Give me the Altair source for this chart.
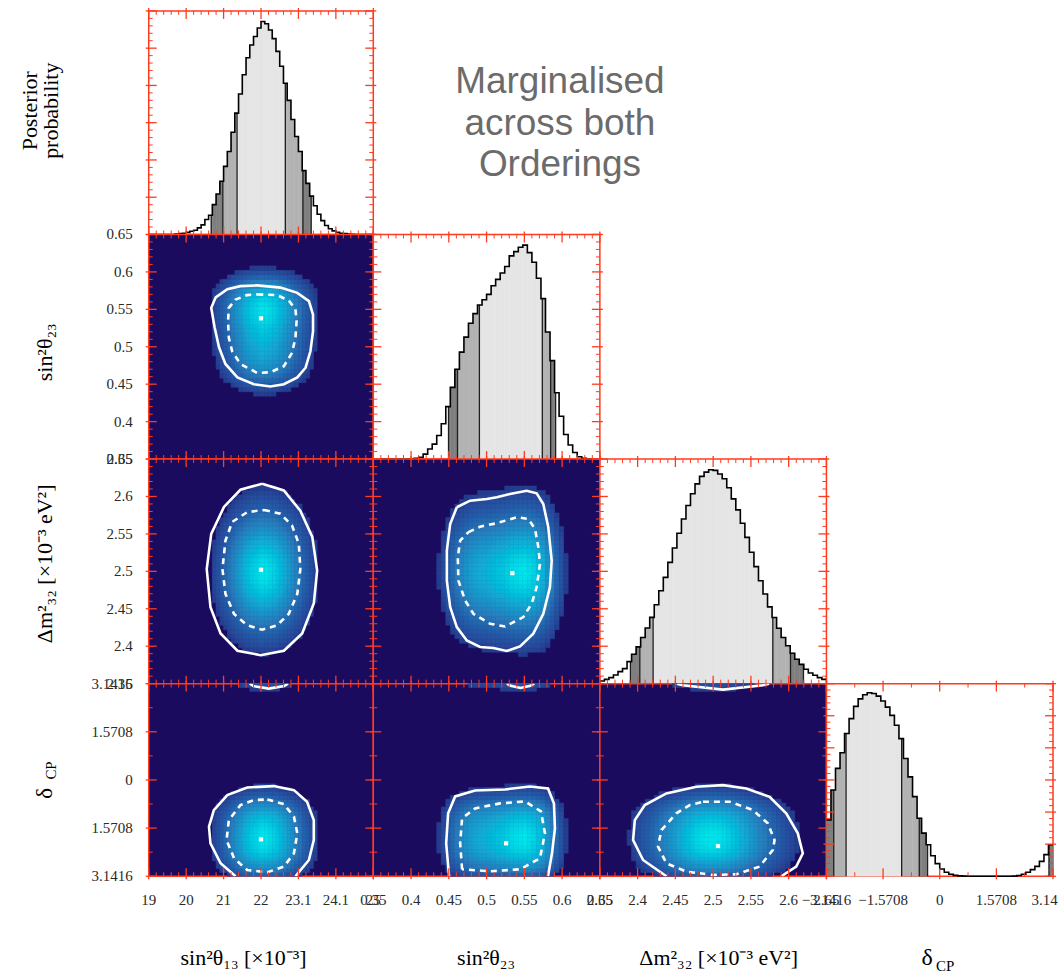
import altair as alt
import numpy as np
import pandas as pd

PI = 3.141592653589793
SERIF = "Liberation Serif"
SANS = "Liberation Sans"
RED = "#ff3b1f"
NAVY = "#1a0b5f"
LABEL = "#2a2a2a"

# ---------------- axis ranges and tick labels ----------------
T13_RANGE = [19.0, 25.0]
T23_RANGE = [0.35, 0.65]
DM_RANGE = [2.35, 2.65]
DCP_RANGE = [-PI, PI]
P_RANGE = [0.0, 1.05]

T13_LABELS = ["19", "20", "21", "22", "23.1", "24.1", "25"]
T23_LABELS = ["0.35", "0.4", "0.45", "0.5", "0.55", "0.6", "0.65"]
DM_LABELS = ["2.35", "2.4", "2.45", "2.5", "2.55", "2.6", "2.65"]
DCP_X_LABELS = ["\u22123.1416", "\u22121.5708", "0", "1.5708", "3.1416"]
DCP_Y_LABELS = ["3.1416", "1.5708", "0", "1.5708", "3.1416"]

# ---------------- 1D marginal posteriors (bin heights, peak = 1) ----------------
T13_HIST = [0, 0, 0, 0, 0, 0, 0, 0.002, 0.004, 0.006,
            0.01, 0.015, 0.02, 0.031, 0.045, 0.07, 0.09, 0.14, 0.19, 0.25,
            0.32, 0.39, 0.48, 0.57, 0.66, 0.75, 0.83, 0.89, 0.93, 0.97,
            1.0, 0.99, 0.96, 0.92, 0.86, 0.79, 0.71, 0.63, 0.54, 0.46,
            0.39, 0.30, 0.24, 0.18, 0.135, 0.095, 0.065, 0.042, 0.027, 0.017,
            0.01, 0.006, 0.004, 0.002, 0.001, 0, 0, 0, 0, 0]
T23_HIST = [0, 0, 0, 0, 0, 0, 0, 0, 0, 0.003,
            0.008, 0.023, 0.047, 0.07, 0.11, 0.165, 0.245, 0.335, 0.42, 0.5,
            0.57, 0.635, 0.68, 0.72, 0.745, 0.77, 0.81, 0.84, 0.87, 0.9,
            0.95, 0.97, 0.99, 1.0, 0.965, 0.92, 0.845, 0.75, 0.594, 0.46,
            0.31, 0.2, 0.115, 0.066, 0.031, 0.011, 0.003, 0, 0, 0]
DM_HIST = [0.0125, 0.02, 0.028, 0.04, 0.056, 0.07, 0.103, 0.1375, 0.172, 0.216,
           0.26, 0.31, 0.369, 0.434, 0.497, 0.567, 0.634, 0.703, 0.77, 0.833,
           0.8875, 0.934, 0.969, 0.989, 1.0, 0.997, 0.98, 0.958, 0.916, 0.864,
           0.8125, 0.75, 0.684, 0.614, 0.547, 0.481, 0.419, 0.359, 0.309, 0.259,
           0.216, 0.177, 0.142, 0.114, 0.09, 0.067, 0.05, 0.039, 0.028, 0.02]
DCP_HIST = [0.307, 0.47, 0.588, 0.673, 0.778, 0.859, 0.926, 0.967, 0.989, 1.0,
            0.996, 0.982, 0.955, 0.922, 0.877, 0.823, 0.75, 0.642, 0.542, 0.434,
            0.316, 0.235, 0.172, 0.112, 0.069, 0.04, 0.022, 0.011, 0.005, 0.002,
            0.001, 0, 0, 0, 0, 0, 0, 0, 0, 0,
            0, 0.001, 0.004, 0.011, 0.022, 0.036, 0.054, 0.081, 0.118, 0.172]

# credible-interval shading: (low, high, level) with 1 = 99 %, 2 = 95 %, 3 = 68 %
T13_BANDS = [(20.67, 23.34, 1), (20.98, 23.12, 2), (21.36, 22.65, 3)]
T23_BANDS = [(0.4496, 0.5914, 1), (0.4615, 0.5848, 2), (0.4905, 0.5738, 3)]
DM_BANDS = [(2.3905, 2.6196, 1), (2.4029, 2.6024, 2), (2.4205, 2.579, 3)]
DCP_BANDS = [(-PI, -0.337, 1), (3.03, PI, 1), (-2.939, -0.567, 2), (-2.597, -1.056, 3)]

# ---------------- 2D credible contours ----------------
C1323_SOLID_X = [21.90, 22.52, 22.97, 23.28, 23.39, 23.39, 23.32, 23.19, 22.97, 22.61,
                 22.25, 21.81, 21.37, 21.05, 20.88, 20.76, 20.67, 20.79, 21.10, 21.45]
C1323_SOLID_Y = [0.582, 0.579, 0.572, 0.561, 0.543, 0.521, 0.494, 0.472, 0.459, 0.450,
                 0.447, 0.450, 0.459, 0.477, 0.499, 0.526, 0.552, 0.566, 0.577, 0.581]
C1323_DASH_X = [21.90, 22.43, 22.74, 22.92, 22.95, 22.92, 22.83, 22.61, 22.25, 21.90,
                21.45, 21.23, 21.14, 21.12, 21.14, 21.32, 21.63]
C1323_DASH_Y = [0.570, 0.569, 0.562, 0.550, 0.534, 0.512, 0.492, 0.474, 0.466, 0.465,
                0.477, 0.494, 0.512, 0.534, 0.552, 0.563, 0.569]
BEST_1323 = (22.0, 0.538)

C13DM_SOLID_X = [22.03, 22.61, 23.05, 23.37, 23.50, 23.41, 23.10, 22.61, 21.99, 21.37,
                 20.92, 20.65, 20.55, 20.67, 21.01, 21.45]
C13DM_SOLID_Y = [2.617, 2.608, 2.581, 2.546, 2.501, 2.457, 2.417, 2.394, 2.388, 2.394,
                 2.417, 2.452, 2.503, 2.550, 2.586, 2.609]
C13DM_DASH_X = [22.08, 22.52, 22.83, 23.01, 23.05, 22.97, 22.74, 22.43, 22.03, 21.63,
                21.28, 21.05, 20.97, 21.05, 21.23, 21.63]
C13DM_DASH_Y = [2.582, 2.577, 2.561, 2.537, 2.503, 2.470, 2.443, 2.428, 2.422, 2.428,
                2.443, 2.470, 2.503, 2.541, 2.566, 2.579]
BEST_13DM = (22.0, 2.502)

C23DM_SOLID_X = [0.4606, 0.4782, 0.5003, 0.5135, 0.5310, 0.5531, 0.5663, 0.5751, 0.5817,
                 0.5862, 0.5839, 0.5751, 0.5618, 0.5443, 0.5267, 0.5090, 0.4914, 0.4738,
                 0.4606, 0.4518, 0.4474, 0.4474, 0.4518]
C23DM_SOLID_Y = [2.5856, 2.5944, 2.5967, 2.599, 2.6033, 2.6077, 2.6043, 2.59, 2.5589,
                 2.5144, 2.4789, 2.4433, 2.4167, 2.3997, 2.3936, 2.3976, 2.3989, 2.4077,
                 2.4256, 2.4523, 2.4877, 2.5277, 2.5633]
C23DM_DASH_X = [0.476, 0.4914, 0.5135, 0.5399, 0.5552, 0.5641, 0.5685, 0.5707, 0.5663,
                0.5597, 0.5486, 0.5244, 0.5046, 0.4826, 0.4716, 0.4627, 0.4619, 0.465]
C23DM_DASH_Y = [2.5523, 2.5597, 2.5643, 2.5723, 2.57, 2.5567, 2.5323, 2.51, 2.4789,
                2.4567, 2.4389, 2.4264, 2.43, 2.4433, 2.4611, 2.4877, 2.5189, 2.541]
BEST_23DM = (0.5341, 2.4976)

C13CP_SOLID_X = [21.32, 20.92, 20.65, 20.61, 20.74, 21.10, 21.63, 22.34, 22.88, 23.23,
                 23.41, 23.41, 23.28, 22.92]
C13CP_SOLID_Y = [-3.1416, -2.718, -2.067, -1.524, -0.983, -0.495, -0.244, -0.200, -0.332,
                 -0.710, -1.310, -1.960, -2.610, -3.1416]
C13CP_DASH_X = [22.17, 22.61, 22.88, 22.97, 22.88, 22.61, 22.17, 21.63, 21.28, 21.08,
                21.14, 21.45, 21.81]
C13CP_DASH_Y = [-0.635, -0.787, -1.198, -1.741, -2.393, -2.827, -3.011, -2.936, -2.555,
                -1.960, -1.310, -0.820, -0.657]
C13CP_ARC_X = [21.70, 21.80, 22.21, 22.62, 22.72]
C13CP_ARC_Y = [3.1416, 3.06, 2.98, 3.06, 3.1416]
BEST_13CP = (22.0, -1.937)

C23CP_SOLID_X = [0.4504, 0.4465, 0.4491, 0.4584, 0.4848, 0.5244, 0.5575, 0.5813, 0.5892,
                 0.5905, 0.5866, 0.5813]
C23CP_SOLID_Y = [-3.1416, -2.067, -1.090, -0.537, -0.342, -0.309, -0.212, -0.277, -0.765,
                 -1.579, -2.393, -3.1416]
C23CP_DASH_X = [0.4676, 0.465, 0.4676, 0.4848, 0.5178, 0.5509, 0.572, 0.5773, 0.5707,
                0.5443, 0.5046]
C23CP_DASH_Y = [-2.914, -2.067, -1.253, -0.928, -0.765, -0.700, -1.025, -1.742, -2.556,
                -2.914, -2.979]
C23CP_ARC_X = [0.527, 0.532, 0.545, 0.558, 0.563]
C23CP_ARC_Y = [3.1416, 3.07, 3.0, 3.07, 3.1416]
BEST_23CP = (0.5258, -2.067)

CDMCP_SOLID_X = [2.4381, 2.4072, 2.394, 2.3963, 2.4095, 2.4381, 2.4778, 2.5129, 2.5439,
                 2.5747, 2.5967, 2.6121, 2.6187, 2.61, 2.5901]
CDMCP_SOLID_Y = [-3.1416, -2.61, -1.96, -1.31, -0.82, -0.439, -0.222, -0.168, -0.277,
                 -0.548, -1.09, -1.741, -2.393, -2.827, -3.1416]
CDMCP_DASH_X = [2.4865, 2.5218, 2.5526, 2.5724, 2.5813, 2.579, 2.5614, 2.5307, 2.4997,
                2.4646, 2.4381, 2.427, 2.4315, 2.4513, 2.4689]
CDMCP_DASH_Y = [-0.71, -0.71, -0.983, -1.416, -1.96, -2.285, -2.827, -3.076, -3.098,
                -2.989, -2.718, -2.175, -1.634, -1.09, -0.82]
CDMCP_ARC_X = [2.452, 2.46, 2.513, 2.566, 2.574]
CDMCP_ARC_Y = [3.1416, 3.086, 2.946, 3.086, 3.1416]
BEST_DMCP = (2.5064, -2.155)

TITLE_LINES = ["Marginalised", "across both", "Orderings"]
T13_TITLE = "sin\u00b2\u03b8\u2081\u2083 [\u00d710\u207b\u00b3]"
T23_TITLE = "sin\u00b2\u03b8\u2082\u2083"
DM_TITLE = "\u0394m\u00b2\u2083\u2082  [\u00d710\u207b\u00b3 eV\u00b2]"
PROB_TITLE = ["Posterior", "probability"]

# ---------------- panel geometry ----------------
COL_W = [225, 227, 227, 227]
ROW_H = [224, 225, 225, 193]

HEAT_SCALE = alt.Scale(domain=[0.1, 0.15, 0.42, 0.7, 0.9, 1.0],
                       range=["#243b8b", "#284a9b", "#2a7bba", "#18a8d2", "#08cde0", "#00e6ec"],
                       clamp=True)
BAND_SCALE = alt.Scale(domain=[1, 2, 3], range=["#7f7f7f", "#b2b2b2", "#e5e5e5"])

ONE = pd.DataFrame({"k": [0]})


def sc(r):
    return alt.Scale(domain=list(r), nice=False, zero=False)


def tick_values(r, nmaj, nsub):
    allv = np.linspace(r[0], r[1], nmaj * nsub + 1)
    major = [float(v) for k, v in enumerate(allv) if k % nsub == 0]
    minor = [float(v) for k, v in enumerate(allv) if k % nsub != 0]
    return major, minor


def text_layer(txt, x, y, size, angle=0, font=SERIF, color="black"):
    kw = dict(text=txt, font=font, fontSize=size, align="center", baseline="middle",
              color=color)
    if angle:
        kw["angle"] = angle
    return alt.Chart(ONE).mark_text(**kw).encode(x=alt.value(x), y=alt.value(y))


def bottom_labels(r, nmaj, labels, H, clip_last=False):
    major, _ = tick_values(r, nmaj, 1)
    df = pd.DataFrame({"v": major, "t": labels})
    X = alt.X("v:Q", scale=sc(r), axis=None)
    if not clip_last:
        return [alt.Chart(df).mark_text(font=SERIF, fontSize=15, color=LABEL, align="center",
                                        baseline="middle").encode(
            x=X, y=alt.value(H + 24), text="t:N")]
    # the last label runs off the right edge of the page, as in the reference
    main = alt.Chart(df.iloc[:-1]).mark_text(font=SERIF, fontSize=15, color=LABEL,
                                             align="center", baseline="middle").encode(
        x=X, y=alt.value(H + 24), text="t:N")
    last = alt.Chart(df.iloc[-1:]).mark_text(font=SERIF, fontSize=15, color=LABEL,
                                             align="left", baseline="middle", dx=-21.5,
                                             limit=27, ellipsis="\u200b").encode(
        x=X, y=alt.value(H + 24), text="t:N")
    return [main, last]


def left_labels(r, nmaj, labels):
    major, _ = tick_values(r, nmaj, 1)
    df = pd.DataFrame({"v": major, "t": labels})
    return alt.Chart(df).mark_text(font=SERIF, fontSize=15, color=LABEL, align="right",
                                   baseline="middle").encode(
        y=alt.Y("v:Q", scale=sc(r), axis=None), x=alt.value(-16), text="t:N")


def tick_layers(xr, xdiv, yr, ydiv, W, H):
    layers = []
    xmaj, xmin = tick_values(xr, *xdiv)
    ymaj, ymin = tick_values(yr, *ydiv)
    X = alt.X("v:Q", scale=sc(xr), axis=None)
    Y = alt.Y("v:Q", scale=sc(yr), axis=None)
    for vals, L, out, wdt in ((xmaj, 8, 3, 1.3), (xmin, 4, 0, 1.0)):
        base = alt.Chart(pd.DataFrame({"v": vals})).mark_rule(color=RED, strokeWidth=wdt)
        layers.append(base.encode(x=X, y=alt.value(H + out), y2=alt.value(H - L)))
        layers.append(base.encode(x=X, y=alt.value(-out), y2=alt.value(L)))
    for vals, L, out, wdt in ((ymaj, 8, 3, 1.3), (ymin, 4, 0, 1.0)):
        base = alt.Chart(pd.DataFrame({"v": vals})).mark_rule(color=RED, strokeWidth=wdt)
        layers.append(base.encode(y=Y, x=alt.value(-out), x2=alt.value(L)))
        layers.append(base.encode(y=Y, x=alt.value(W + out), x2=alt.value(W - L)))
    return layers


def heat_df(xr, hx, yr, hy):
    wx = (xr[1] - xr[0]) / len(hx)
    wy = (yr[1] - yr[0]) / len(hy)
    rows = []
    for i, a in enumerate(hx):
        for j, b in enumerate(hy):
            v = a * b
            if v >= 0.1:
                rows.append(dict(x0=xr[0] + i * wx, x1=xr[0] + (i + 1) * wx,
                                 y0=yr[0] + j * wy, y1=yr[0] + (j + 1) * wy, v=v))
    return pd.DataFrame(rows)


def line_layer(xr, yr, xs, ys, closed=True, dashed=False):
    xs = list(xs)
    ys = list(ys)
    if closed:
        xs = xs + [xs[0]]
        ys = ys + [ys[0]]
    df = pd.DataFrame({"x": xs, "y": ys, "i": list(range(len(xs)))})
    kw = dict(color="white", strokeWidth=2.6, clip=True)
    if dashed:
        kw["strokeDash"] = [6, 5]
    return alt.Chart(df).mark_line(**kw).encode(
        x=alt.X("x:Q", scale=sc(xr), axis=None),
        y=alt.Y("y:Q", scale=sc(yr), axis=None),
        order="i:Q")


def panel_2d(xr, xdiv, hx, yr, ydiv, hy, solid, dash, best, W, H, arc=None, extra=()):
    heat = alt.Chart(heat_df(xr, hx, yr, hy)).mark_rect(strokeWidth=0.6).encode(
        x=alt.X("x0:Q", scale=sc(xr), axis=None), x2="x1:Q",
        y=alt.Y("y0:Q", scale=sc(yr), axis=None), y2="y1:Q",
        color=alt.Color("v:Q", scale=HEAT_SCALE, legend=None),
        stroke=alt.Stroke("v:Q", scale=HEAT_SCALE, legend=None))
    layers = [heat]
    layers.append(line_layer(xr, yr, solid[0], solid[1], closed=solid[2]))
    layers.append(line_layer(xr, yr, dash[0], dash[1], closed=True, dashed=True))
    if arc is not None:
        layers.append(line_layer(xr, yr, arc[0], arc[1], closed=False))
    bdf = pd.DataFrame({"x": [best[0]], "y": [best[1]]})
    layers.append(alt.Chart(bdf).mark_square(color="white", size=18, opacity=1).encode(
        x=alt.X("x:Q", scale=sc(xr), axis=None), y=alt.Y("y:Q", scale=sc(yr), axis=None)))
    layers += tick_layers(xr, xdiv, yr, ydiv, W, H)
    layers += list(extra)
    return alt.layer(*layers).properties(
        width=W, height=H, view=alt.ViewBackground(fill=NAVY, stroke=RED, strokeWidth=1.5))


def panel_1d(r, div, heights, bands, W, H, extra=()):
    n = len(heights)
    w = (r[1] - r[0]) / n
    edges = [r[0] + k * w for k in range(n + 1)]
    bvals = [v for (a, b, _) in bands for v in (a, b) if r[0] < v < r[1]]
    cuts = sorted(set(edges + bvals))
    seg = []
    for a, b in zip(cuts[:-1], cuts[1:]):
        if b - a < 1e-9:
            continue
        m = 0.5 * (a + b)
        idx = min(int((m - r[0]) / w), n - 1)
        lvl = max([l for (lo, hi, l) in bands if lo <= m <= hi], default=0)
        if lvl > 0 and heights[idx] > 0:
            seg.append(dict(a=a, b=b, h=heights[idx], lvl=lvl))
    bnd = []
    for v in bvals:
        idx = min(int((v - r[0]) / w), n - 1)
        bnd.append(dict(b=v, h=heights[idx]))
    outline = pd.DataFrame({"x": edges, "h": list(heights) + [heights[-1]]})

    fill = alt.Chart(pd.DataFrame(seg)).mark_rect(strokeWidth=0.5).encode(
        x=alt.X("a:Q", scale=sc(r), axis=None), x2="b:Q",
        y=alt.Y("h:Q", scale=sc(P_RANGE), axis=None), y2=alt.datum(0),
        color=alt.Color("lvl:O", scale=BAND_SCALE, legend=None),
        stroke=alt.Stroke("lvl:O", scale=BAND_SCALE, legend=None))
    rules = alt.Chart(pd.DataFrame(bnd)).mark_rule(color="#1e1e1e", strokeWidth=1.3).encode(
        x=alt.X("b:Q", scale=sc(r), axis=None),
        y=alt.Y("h:Q", scale=sc(P_RANGE), axis=None), y2=alt.datum(0))
    line = alt.Chart(outline).mark_line(interpolate="step-after", color="black",
                                        strokeWidth=1.6).encode(
        x=alt.X("x:Q", scale=sc(r), axis=None),
        y=alt.Y("h:Q", scale=sc(P_RANGE), axis=None))
    layers = [fill, rules, line] + tick_layers(r, div, P_RANGE, (6, 5), W, H) + list(extra)
    return alt.layer(*layers).properties(
        width=W, height=H, view=alt.ViewBackground(fill="white", stroke=RED, strokeWidth=1.5))


def blank(W, H):
    return alt.Chart(ONE).mark_text(text="").encode(
        x=alt.value(0), y=alt.value(0)).properties(
        width=W, height=H, view=alt.ViewBackground(stroke="transparent"))


D6 = (6, 5)
D4 = (4, 2)
H4 = ROW_H[3]

# ---------------- row 1 ----------------
h1 = panel_1d(T13_RANGE, D6, T13_HIST, T13_BANDS, COL_W[0], ROW_H[0],
              extra=[text_layer(PROB_TITLE[0], -119, 100, 22, angle=270),
                     text_layer(PROB_TITLE[1], -98, 100, 22, angle=270)])
title_layers = [text_layer(t, 187, y, 37, font=SANS, color="#6b6b6b")
                for t, y in zip(TITLE_LINES, [71, 113, 154])]
title_cell = alt.layer(*title_layers).properties(
    width=COL_W[1], height=ROW_H[0], view=alt.ViewBackground(stroke="transparent"))

# ---------------- row 2 ----------------
p_13_23 = panel_2d(T13_RANGE, D6, T13_HIST, T23_RANGE, D6, T23_HIST,
                   (C1323_SOLID_X, C1323_SOLID_Y, True), (C1323_DASH_X, C1323_DASH_Y),
                   BEST_1323, COL_W[0], ROW_H[1],
                   extra=[left_labels(T23_RANGE, 6, T23_LABELS),
                          text_layer(T23_TITLE, -104, 118, 22, angle=270)])
h2 = panel_1d(T23_RANGE, D6, T23_HIST, T23_BANDS, COL_W[1], ROW_H[1])

# ---------------- row 3 ----------------
p_13_dm = panel_2d(T13_RANGE, D6, T13_HIST, DM_RANGE, D6, DM_HIST,
                   (C13DM_SOLID_X, C13DM_SOLID_Y, True), (C13DM_DASH_X, C13DM_DASH_Y),
                   BEST_13DM, COL_W[0], ROW_H[2],
                   extra=[left_labels(DM_RANGE, 6, DM_LABELS),
                          text_layer(DM_TITLE, -104, 105, 22, angle=270)])
p_23_dm = panel_2d(T23_RANGE, D6, T23_HIST, DM_RANGE, D6, DM_HIST,
                   (C23DM_SOLID_X, C23DM_SOLID_Y, True), (C23DM_DASH_X, C23DM_DASH_Y),
                   BEST_23DM, COL_W[1], ROW_H[2])
h3 = panel_1d(DM_RANGE, D6, DM_HIST, DM_BANDS, COL_W[2], ROW_H[2])

# ---------------- row 4 ----------------
p_13_cp = panel_2d(T13_RANGE, D6, T13_HIST, DCP_RANGE, D4, DCP_HIST,
                   (C13CP_SOLID_X, C13CP_SOLID_Y, False), (C13CP_DASH_X, C13CP_DASH_Y),
                   BEST_13CP, COL_W[0], H4, arc=(C13CP_ARC_X, C13CP_ARC_Y),
                   extra=[left_labels(DCP_RANGE, 4, DCP_Y_LABELS)]
                   + bottom_labels(T13_RANGE, 6, T13_LABELS, H4)
                   + [text_layer(T13_TITLE, 95, H4 + 82, 22),
                      text_layer("\u03b4", -104, 110, 24, angle=270),
                      text_layer("CP", -98, 87, 15, angle=270)])
p_23_cp = panel_2d(T23_RANGE, D6, T23_HIST, DCP_RANGE, D4, DCP_HIST,
                   (C23CP_SOLID_X, C23CP_SOLID_Y, False), (C23CP_DASH_X, C23CP_DASH_Y),
                   BEST_23CP, COL_W[1], H4, arc=(C23CP_ARC_X, C23CP_ARC_Y),
                   extra=bottom_labels(T23_RANGE, 6, T23_LABELS, H4)
                   + [text_layer(T23_TITLE, 113, H4 + 82, 22)])
p_dm_cp = panel_2d(DM_RANGE, D6, DM_HIST, DCP_RANGE, D4, DCP_HIST,
                   (CDMCP_SOLID_X, CDMCP_SOLID_Y, False), (CDMCP_DASH_X, CDMCP_DASH_Y),
                   BEST_DMCP, COL_W[2], H4, arc=(CDMCP_ARC_X, CDMCP_ARC_Y),
                   extra=bottom_labels(DM_RANGE, 6, DM_LABELS, H4)
                   + [text_layer(DM_TITLE, 119, H4 + 82, 22)])
h4 = panel_1d(DCP_RANGE, D4, DCP_HIST, DCP_BANDS, COL_W[3], H4,
              extra=bottom_labels(DCP_RANGE, 4, DCP_X_LABELS, H4, clip_last=True)
              + [text_layer("\u03b4", 101, H4 + 82, 24),
                 text_layer("CP", 119, H4 + 90, 15)])

cells = [
    h1, title_cell, blank(COL_W[2], ROW_H[0]), blank(COL_W[3], ROW_H[0]),
    p_13_23, h2, blank(COL_W[2], ROW_H[1]), blank(COL_W[3], ROW_H[1]),
    p_13_dm, p_23_dm, h3, blank(COL_W[3], ROW_H[2]),
    p_13_cp, p_23_cp, p_dm_cp, h4,
]

chart = alt.concat(*cells, columns=4, spacing=0, bounds="flush", align="each").properties(
    padding={"left": 18, "top": 3, "right": 0, "bottom": 0}
).configure_view(stroke="transparent")

chart.save("out.html", embed_options={"renderer": "svg", "actions": False})
